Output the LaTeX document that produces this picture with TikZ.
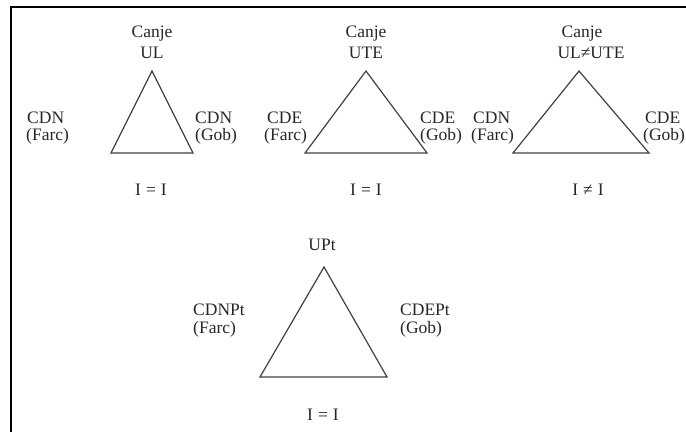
\documentclass[tikz,border=0pt]{standalone}
\usepackage{fontspec}
\setmainfont{Liberation Serif}
\begin{document}
\begin{tikzpicture}[x=1pt,y=-1pt,
  lbl/.style={inner sep=0pt,font=\fontsize{17.5}{20}\selectfont,text=black!85},
  lc/.style={lbl,anchor=base},
  ll/.style={lbl,anchor=base west},
  tri/.style={draw=black!75,line width=1.2pt,line join=miter},
  frame/.style={draw=black,line width=2pt}]
\useasboundingbox (0,0) rectangle (686,432);
\coordinate (fr1) at (686,7);
\coordinate (fr2) at (11,7);
\coordinate (fr3) at (11,432);
\draw[frame] (fr1) -- (fr2) -- (fr3);

% triangle 1
\coordinate (a1) at (152,71);
\coordinate (b1) at (111,153);
\coordinate (c1) at (193,153);
\draw[tri] (a1) -- (b1) -- (c1) -- cycle;
\node[lc] (t1a) at (152,37) {Canje};
\node[lc] (t1b) at (152,58) {UL};
\node[ll] (l1a) at (27,123) {CDN};
\node[ll] (l1b) at (26,140) {(Farc)};
\node[ll] (r1a) at (195,123) {CDN};
\node[ll] (r1b) at (195,140) {(Gob)};
\node[lc] (e1) at (151,195) {I\hspace{5pt}=\hspace{5pt}I};

% triangle 2
\coordinate (a2) at (366,71);
\coordinate (b2) at (305,153);
\coordinate (c2) at (427,153);
\draw[tri] (a2) -- (b2) -- (c2) -- cycle;
\node[lc] (t2a) at (366,37) {Canje};
\node[lc] (t2b) at (366,58) {UTE};
\node[ll] (l2a) at (267,123) {CDE};
\node[ll] (l2b) at (264,140) {(Farc)};
\node[ll] (r2a) at (420,123) {CDE};
\node[ll] (r2b) at (420,140) {(Gob)};
\node[lc] (e2) at (366,195) {I\hspace{5pt}=\hspace{5pt}I};

% triangle 3
\coordinate (a3) at (579,71);
\coordinate (b3) at (513,153);
\coordinate (c3) at (649,153);
\draw[tri] (a3) -- (b3) -- (c3) -- cycle;
\node[lc] (t3a) at (582,37) {Canje};
\node[lc] (t3b) at (591,58) {UL≠UTE};
\node[ll] (l3a) at (473,123) {CDN};
\node[ll] (l3b) at (471,140) {(Farc)};
\node[ll] (r3a) at (645,123) {CDE};
\node[ll] (r3b) at (643,140) {(Gob)};
\node[lc] (e3) at (588,195) {I\hspace{5pt}≠\hspace{5pt}I};

% triangle 4
\coordinate (a4) at (324,267);
\coordinate (b4) at (260,377);
\coordinate (c4) at (387,377);
\draw[tri] (a4) -- (b4) -- (c4) -- cycle;
\node[lc] (t4a) at (322,250) {UPt};
\node[ll] (l4a) at (193,315) {CDNPt};
\node[ll] (l4b) at (193,333) {(Farc)};
\node[ll] (r4a) at (400,315) {CDEPt};
\node[ll] (r4b) at (400,333) {(Gob)};
\node[lc] (e4) at (323,420) {I\hspace{5pt}=\hspace{5pt}I};
\end{tikzpicture}
\end{document}
